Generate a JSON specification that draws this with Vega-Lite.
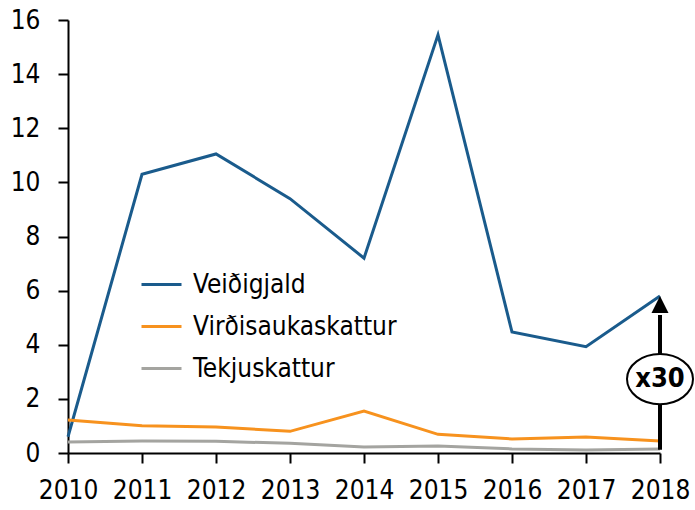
{
  "$schema": "https://vega.github.io/schema/vega-lite/v6.json",
  "autosize": {"type": "none"},
  "width": 592,
  "height": 433,
  "padding": {"left": 68, "top": 20, "right": 35, "bottom": 57},
  "background": "white",
  "config": {
    "view": {"stroke": null},
    "font": "DejaVu Sans Condensed",
    "axis": {
      "grid": false,
      "domainColor": "black",
      "domainWidth": 2,
      "tickColor": "black",
      "tickWidth": 2,
      "tickSize": 10,
      "labelFont": "DejaVu Sans Condensed",
      "labelFontSize": 26,
      "labelColor": "black",
      "labelOverlap": false,
      "labelBound": false,
      "labelFlush": false,
      "title": null
    }
  },
  "datasets": {
    "series": [
      {"year": 2010, "series": "Veiðigjald", "value": 0.6},
      {"year": 2011, "series": "Veiðigjald", "value": 10.3},
      {"year": 2012, "series": "Veiðigjald", "value": 11.05},
      {"year": 2013, "series": "Veiðigjald", "value": 9.4},
      {"year": 2014, "series": "Veiðigjald", "value": 7.2},
      {"year": 2015, "series": "Veiðigjald", "value": 15.45},
      {"year": 2016, "series": "Veiðigjald", "value": 4.47},
      {"year": 2017, "series": "Veiðigjald", "value": 3.93},
      {"year": 2018, "series": "Veiðigjald", "value": 5.8},
      {"year": 2010, "series": "Virðisaukaskattur", "value": 1.22},
      {"year": 2011, "series": "Virðisaukaskattur", "value": 1.01},
      {"year": 2012, "series": "Virðisaukaskattur", "value": 0.96},
      {"year": 2013, "series": "Virðisaukaskattur", "value": 0.8},
      {"year": 2014, "series": "Virðisaukaskattur", "value": 1.55},
      {"year": 2015, "series": "Virðisaukaskattur", "value": 0.69},
      {"year": 2016, "series": "Virðisaukaskattur", "value": 0.52},
      {"year": 2017, "series": "Virðisaukaskattur", "value": 0.59},
      {"year": 2018, "series": "Virðisaukaskattur", "value": 0.44},
      {"year": 2010, "series": "Tekjuskattur", "value": 0.41},
      {"year": 2011, "series": "Tekjuskattur", "value": 0.44},
      {"year": 2012, "series": "Tekjuskattur", "value": 0.43},
      {"year": 2013, "series": "Tekjuskattur", "value": 0.36},
      {"year": 2014, "series": "Tekjuskattur", "value": 0.22},
      {"year": 2015, "series": "Tekjuskattur", "value": 0.26},
      {"year": 2016, "series": "Tekjuskattur", "value": 0.15},
      {"year": 2017, "series": "Tekjuskattur", "value": 0.11},
      {"year": 2018, "series": "Tekjuskattur", "value": 0.15}
    ],
    "annot": [
      {"year": 2018, "lo": 0.12, "hi": 5.1, "tip": 5.8, "mid": 2.73, "label": "x30"}
    ]
  },
  "layer": [
    {
      "data": {"name": "series"},
      "mark": {"type": "line", "strokeWidth": 3},
      "encoding": {
        "x": {
          "field": "year", "type": "quantitative",
          "scale": {"domain": [2010, 2018], "nice": false, "zero": false},
          "axis": {"values": [2010, 2011, 2012, 2013, 2014, 2015, 2016, 2017, 2018], "format": "d", "labelPadding": 14}
        },
        "y": {
          "field": "value", "type": "quantitative",
          "scale": {"domain": [0, 16], "nice": false},
          "axis": {"values": [0, 2, 4, 6, 8, 10, 12, 14, 16], "labelPadding": 18}
        },
        "color": {
          "field": "series", "type": "nominal",
          "scale": {
            "domain": ["Veiðigjald", "Virðisaukaskattur", "Tekjuskattur"],
            "range": ["#1a5b8c", "#f7921e", "#a4a4a0"]
          },
          "legend": {
            "orient": "none",
            "legendX": 72,
            "legendY": 243,
            "title": null,
            "symbolType": "stroke",
            "symbolSize": 1600,
            "symbolStrokeWidth": 3,
            "labelFontSize": 26,
            "labelColor": "black",
            "labelFont": "DejaVu Sans Condensed",
            "labelOffset": 10,
            "labelLimit": 0,
            "rowPadding": 7
          }
        },
        "detail": {"field": "series"}
      }
    },
    {
      "data": {"name": "annot"},
      "mark": {"type": "rule", "color": "black", "strokeWidth": 4},
      "encoding": {
        "x": {"field": "year", "type": "quantitative"},
        "y": {"field": "lo", "type": "quantitative"},
        "y2": {"field": "hi"}
      }
    },
    {
      "data": {"name": "annot"},
      "mark": {"type": "point", "shape": "M 0 0 L 1 2 L -1 2 Z", "size": 289, "filled": true, "color": "black", "opacity": 1},
      "encoding": {
        "x": {"field": "year", "type": "quantitative"},
        "y": {"field": "tip", "type": "quantitative"}
      }
    },
    {
      "data": {"name": "annot"},
      "mark": {"type": "point", "shape": "M -1 0 A 1 0.76 0 1 1 1 0 A 1 0.76 0 1 1 -1 0 Z", "size": 4356, "fill": "white", "stroke": "black", "strokeWidth": 2, "opacity": 1, "filled": false, "fillOpacity": 1},
      "encoding": {
        "x": {"field": "year", "type": "quantitative"},
        "y": {"field": "mid", "type": "quantitative"}
      }
    },
    {
      "data": {"name": "annot"},
      "mark": {"type": "text", "fontSize": 27, "font": "DejaVu Sans Condensed", "fontWeight": 600, "color": "black", "align": "center", "baseline": "middle"},
      "encoding": {
        "x": {"field": "year", "type": "quantitative"},
        "y": {"field": "mid", "type": "quantitative"},
        "text": {"field": "label"}
      }
    }
  ]
}
